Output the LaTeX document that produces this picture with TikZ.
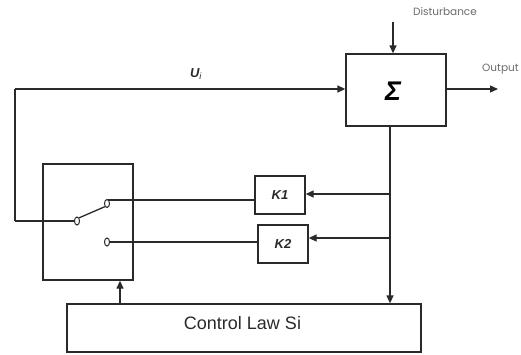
\documentclass[tikz,border=0pt]{standalone}
\usepackage{fontspec}
\setmainfont{Liberation Sans}
\newfontfamily\popfont{Poppins}
\usetikzlibrary{arrows.meta,calc,shapes.geometric}
\definecolor{lc}{HTML}{2A2A2A}
\definecolor{gtext}{HTML}{6A6A6A}
\tikzset{
  blk/.style={draw=lc, line width=1.3pt, rectangle, inner sep=0pt, fill=white},
  wire/.style={draw=lc, line width=1.3pt},
  arr/.style={wire, -{Triangle[length=8pt,width=7pt]}},
  contact/.style={draw=lc, line width=1pt, ellipse, minimum width=5pt, minimum height=8pt, inner sep=0pt, fill=white},
  kfont/.style={font=\fontsize{13}{15}\selectfont\bfseries\itshape, text=lc},
  small/.style={font=\popfont\fontsize{10.5}{12}\selectfont, text=gtext}
}
\begin{document}
\begin{tikzpicture}[x=1pt,y=-1pt]
\useasboundingbox (0,0) rectangle (521,354);
% blocks
\node[blk, minimum width=100pt, minimum height=72pt] (sig) at (396,90) {};
\node[font=\fontsize{27}{29}\selectfont\bfseries\itshape, text=black] (sigt) at (393,91) {Σ};
\node[blk, minimum width=90pt, minimum height=116pt] (sw) at (88,222) {};
\node[blk, minimum width=50pt, minimum height=38pt, kfont] (k1) at (280,195) {K1};
\node[blk, minimum width=50pt, minimum height=38pt, kfont] (k2) at (283,244) {K2};
\node[blk, minimum width=354pt, minimum height=48pt] (ctrl) at (244,328) {};
\node[font=\fontsize{18}{20}\selectfont, text=lc] (ctrlt) at (242.5,323.5) {Control Law Si};
% labels
\node[small, anchor=center] (dist) at (445,12) {Disturbance};
\node[small, anchor=west, inner sep=0pt] (outl) at (482,69) {Output};
\node[font=\fontsize{13}{15}\selectfont\bfseries\itshape, text=lc] (ui) at (196,74) {U\textsubscript{\mdseries\itshape i}};
% coordinates
\coordinate (dtop) at (393,22);
\coordinate (otip) at (498,89);
\coordinate (ltop) at (15,89);
\coordinate (lbot) at (15,221);
\coordinate (fbx) at (390,0);
\coordinate (fb1) at (390,194);
\coordinate (fb2) at (390,238);
\coordinate (cx) at (120,0);
\coordinate (upw) at (110,200);
% switch contacts
\node[contact] (piv) at (77,221) {};
\node[contact] (cup) at (107,203.5) {};
\node[contact] (clo) at (107,242) {};
% connectors
\draw[arr] (dtop) -- (dtop |- sig.north);
\draw[arr] (sig.east |- otip) -- (otip);
\draw[wire] (lbot) -- (ltop);
\draw[arr] (ltop) -- (ltop -| sig.west);
\draw[wire] (lbot) -- (piv.west);
\draw[wire] (piv.north east) -- (cup.south west);
\draw[wire] (cup.north east) |- (upw) -- (upw -| k1.west);
\draw[wire] (clo.east) -- (clo.east -| k2.west);
\draw[arr] (fbx |- sig.south) -- (fbx |- ctrl.north);
\draw[arr] (fb1) -- (fb1 -| k1.east);
\draw[arr] (fb2) -- (fb2 -| k2.east);
\draw[arr] (cx |- ctrl.north) -- (cx |- sw.south);
\end{tikzpicture}
\end{document}
